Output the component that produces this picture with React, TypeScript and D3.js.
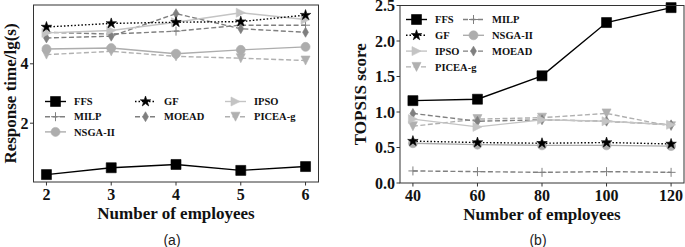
import React from "react";
import * as d3 from "d3";

const xA = [2, 3, 4, 5, 6];
const ffsA = [0.27, 0.5, 0.61, 0.41, 0.54];
const gfA = [5.24, 5.36, 5.4, 5.42, 5.64];
const ipsoA = [5.04, 5.12, 5.4, 5.72, 5.49];
const milpA = [5.06, 5.0, 5.1, 5.3, 5.3];
const moeadA = [4.87, 4.93, 5.69, 5.18, 5.06];
const piceaA = [4.31, 4.42, 4.25, 4.19, 4.11];
const nsgaA = [4.5, 4.53, 4.34, 4.47, 4.57];
const yTicksA = [2, 4];

const xB = [40, 60, 80, 100, 120];
const ffsB = [1.16, 1.18, 1.51, 2.26, 2.47];
const gfB = [0.59, 0.57, 0.56, 0.57, 0.55];
const ipsoB = [0.9, 0.79, 0.89, 0.87, 0.82];
const milpB = [0.17, 0.16, 0.15, 0.16, 0.15];
const moeadB = [0.98, 0.87, 0.89, 0.87, 0.82];
const piceaB = [0.8, 0.9, 0.92, 0.98, 0.8];
const nsgaB = [0.56, 0.54, 0.53, 0.53, 0.52];
const yTicksB = [0.0, 0.5, 1.0, 1.5, 2.0, 2.5];

type Style = { color: string; dash: string; marker: string; width: number };
const styles: Record<string, Style> = {
  FFS: { color: "#000000", dash: "", marker: "square", width: 1.4 },
  GF: { color: "#000000", dash: "1.5,2", marker: "star", width: 1.4 },
  IPSO: { color: "#c4c4c4", dash: "", marker: "triRight", width: 1.4 },
  MILP: { color: "#808080", dash: "5,2.5", marker: "plus", width: 1.4 },
  MOEAD: { color: "#7f7f7f", dash: "5,2.5", marker: "diamond", width: 1.4 },
  "PICEA-g": { color: "#b0b0b0", dash: "5,2.5", marker: "triDown", width: 1.4 },
  "NSGA-II": { color: "#adadad", dash: "", marker: "circle", width: 1.4 },
};

function markerPath(kind: string, s: number): string {
  const h = s / 2;
  switch (kind) {
    case "square":
      return `M${-h},${-h}H${h}V${h}H${-h}Z`;
    case "star":
      return d3.symbol(d3.symbolStar, s * s * 0.42)() as string;
    case "triRight":
      return `M${h},0L${-h},${-h}L${-h},${h}Z`;
    case "triDown":
      return `M0,${h}L${-h},${-h}L${h},${-h}Z`;
    case "diamond":
      return `M0,${-h * 1.1}L${h * 0.65},0L0,${h * 1.1}L${-h * 0.65},0Z`;
    case "circle":
      return d3.symbol(d3.symbolCircle, Math.PI * h * h)() as string;
    case "plus":
      return `M${-h},0H${h}M0,${-h}V${h}`;
  }
  return "";
}

const SERIF = "'Liberation Serif', 'Times New Roman', serif";

function Marker({ kind, color, x, y, s }: { kind: string; color: string; x: number; y: number; s: number }) {
  const d = markerPath(kind, s);
  if (kind === "plus")
    return <path d={d} transform={`translate(${x},${y})`} stroke={color} strokeWidth={1} fill="none" />;
  return <path d={d} transform={`translate(${x},${y})`} fill={color} stroke={color} strokeWidth={0.6} />;
}

type PanelProps = {
  xs: number[];
  data: Record<string, number[]>;
  xDomain: [number, number];
  yDomain: [number, number];
  xRange: [number, number];
  yRange: [number, number];
  yTicks: number[];
  yFmt: (v: number) => string;
  yLabel: string;
  yLabelX: number;
  xLabel: string;
  caption: string;
  captionX: number;
  legendCols: string[][];
  legendX: number[];
  legendY: number;
  legendDy: number;
  handleW: number;
};

function Panel(p: PanelProps) {
  const x = d3.scaleLinear().domain(p.xDomain).range(p.xRange);
  const y = d3.scaleLinear().domain(p.yDomain).range(p.yRange);
  const line = d3
    .line<[number, number]>()
    .x((d) => x(d[0]))
    .y((d) => y(d[1]));
  const [x0, x1] = p.xRange;
  const [yb, yt] = p.yRange;
  const order = ["MILP", "PICEA-g", "NSGA-II", "MOEAD", "IPSO", "GF", "FFS"];
  return (
    <g>
      {order.map((name) => {
        const st = styles[name];
        const pts = p.xs.map((v, i) => [v, p.data[name][i]] as [number, number]);
        return (
          <g key={name}>
            <path d={line(pts) as string} fill="none" stroke={st.color} strokeWidth={st.width} strokeDasharray={st.dash} />
            {pts.map((pt, i) => (
              <Marker key={i} kind={st.marker} color={st.color} x={x(pt[0])} y={y(pt[1])} s={name === "FFS" ? 10 : 9} />
            ))}
          </g>
        );
      })}
      <rect x={x0} y={yt} width={x1 - x0} height={yb - yt} fill="none" stroke="#333" strokeWidth={1} />
      {p.xs.map((v) => (
        <g key={v}>
          <line x1={x(v)} x2={x(v)} y1={yb} y2={yb + 3.5} stroke="#333" />
          <text x={x(v)} y={yb + 18} textAnchor="middle" fontFamily={SERIF} fontWeight="bold" fontSize={16} fill="#111">
            {v}
          </text>
        </g>
      ))}
      {p.yTicks.map((v) => (
        <g key={v}>
          <line x1={x0 - 3.5} x2={x0} y1={y(v)} y2={y(v)} stroke="#333" />
          <text x={x0 - 5} y={y(v)} dy="0.35em" textAnchor="end" fontFamily={SERIF} fontWeight="bold" fontSize={16} fill="#111">
            {p.yFmt(v)}
          </text>
        </g>
      ))}
      <text x={(x0 + x1) / 2} y={yb + 37} textAnchor="middle" fontFamily={SERIF} fontWeight="bold" fontSize={17} fill="#111">
        {p.xLabel}
      </text>
      <text
        transform={`translate(${p.yLabelX},${(yb + yt) / 2}) rotate(-90)`}
        textAnchor="middle"
        dy="0.35em"
        fontFamily={SERIF}
        fontWeight="bold"
        fontSize={17}
        fill="#111"
      >
        {p.yLabel}
      </text>
      <text x={p.captionX} y={245} textAnchor="middle" fontFamily="'Liberation Sans', Arial, sans-serif" fontSize={14} fill="#222">
        {p.caption}
      </text>
      {p.legendCols.map((col, ci) =>
        col.map((name, ri) => {
          const st = styles[name];
          const lx = p.legendX[ci];
          const ly = p.legendY + ri * p.legendDy;
          return (
            <g key={name}>
              <line x1={lx} x2={lx + p.handleW} y1={ly} y2={ly} stroke={st.color} strokeWidth={st.width} strokeDasharray={st.dash} />
              <Marker kind={st.marker} color={st.color} x={lx + p.handleW / 2} y={ly} s={name === "FFS" ? 10 : 9} />
              <text x={lx + p.handleW + 8} y={ly} dy="0.35em" fontFamily={SERIF} fontWeight="bold" fontSize={10.5} fill="#111">
                {name}
              </text>
            </g>
          );
        })
      )}
    </g>
  );
}

export default function App() {
  const dataA: Record<string, number[]> = {
    FFS: ffsA, GF: gfA, IPSO: ipsoA, MILP: milpA, MOEAD: moeadA, "PICEA-g": piceaA, "NSGA-II": nsgaA,
  };
  const dataB: Record<string, number[]> = {
    FFS: ffsB, GF: gfB, IPSO: ipsoB, MILP: milpB, MOEAD: moeadB, "PICEA-g": piceaB, "NSGA-II": nsgaB,
  };
  return (
    <svg width={685} height={247} style={{ position: "absolute", left: 0, top: 0, background: "#fff" }}>
      <Panel
        xs={xA}
        data={dataA}
        xDomain={[1.8, 6.2]}
        yDomain={[0.02, 5.98]}
        xRange={[33.5, 318.5]}
        yRange={[182, 5]}
        yTicks={yTicksA}
        yFmt={(v) => String(v)}
        yLabel="Response time/lg(s)"
        yLabelX={10}
        xLabel="Number of employees"
        caption="(a)"
        captionX={172}
        legendCols={[["FFS", "MILP", "NSGA-II"], ["GF", "MOEAD"], ["IPSO", "PICEA-g"]]}
        legendX={[45, 135, 225]}
        legendY={101.5}
        legendDy={15.2}
        handleW={21}
      />
      <Panel
        xs={xB}
        data={dataB}
        xDomain={[36, 124]}
        yDomain={[0, 2.5]}
        xRange={[400, 684]}
        yRange={[183, 5.5]}
        yTicks={yTicksB}
        yFmt={(v) => v.toFixed(1)}
        yLabel="TOPSIS score"
        yLabelX={360}
        xLabel="Number of employees"
        caption="(b)"
        captionX={538}
        legendCols={[["FFS", "GF", "IPSO", "PICEA-g"], ["MILP", "NSGA-II", "MOEAD"]]}
        legendX={[406, 463]}
        legendY={19.5}
        legendDy={15.8}
        handleW={21}
      />
    </svg>
  );
}
